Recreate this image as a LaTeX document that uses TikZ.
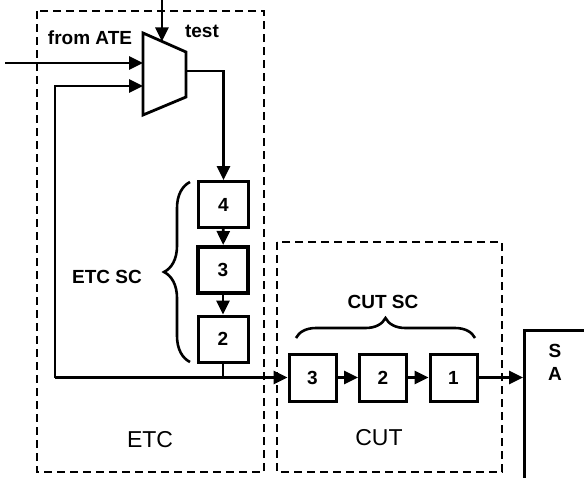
\documentclass[tikz,border=0pt]{standalone}
\usepackage{fontspec}
\setmainfont{Liberation Sans}
\usetikzlibrary{arrows.meta,decorations.pathreplacing,calc}
\begin{document}
\begin{tikzpicture}[x=1pt,y=-1pt,
  wire/.style={line width=2.8pt},
  arr/.style={wire,-{Triangle[length=14pt,width=13pt]}},
  cell/.style={draw,line width=3pt,minimum width=50pt,minimum height=46pt,inner sep=0pt,font=\fontsize{19}{21}\selectfont\bfseries},
  region/.style={draw,line width=2.8pt,dash pattern=on 8pt off 5pt},
  lbl/.style={inner sep=0pt,font=\fontsize{19}{21}\selectfont\bfseries},
  big/.style={inner sep=0pt,font=\fontsize{23}{25}\selectfont},
  brc/.style={line width=2.6pt,decorate,decoration={brace,amplitude=#1}}
]
\useasboundingbox (0,0) rectangle (584,477);
\clip (0,0) rectangle (584,477);
% regions
\draw[region] (37,11) rectangle (264,472);
\draw[region] (277,242) rectangle (502,472);
% SA box
\node[draw,line width=3pt,minimum width=90pt,minimum height=160pt,anchor=north west,inner sep=0pt] (sa) at (523,329) {};
\node[lbl] (s) at (555,351) {S};
\node[lbl] (a) at (555,374) {A};
% mux
\coordinate (m1) at (143,33);
\coordinate (m2) at (186,52);
\coordinate (m3) at (186,97);
\coordinate (m4) at (143,115);
\draw[wire,line join=miter] (m1) -- (m2) -- (m3) -- (m4) -- cycle;
\coordinate (muxtop) at ($(m1)!0.44!(m2)$);
\coordinate (testsrc) at (muxtop |- 0,-2);
\coordinate (ain) at (143,63);
\coordinate (fbin) at (143,86);
\coordinate (atesrc) at (5,63);
\coordinate (mout) at (186,71);
% ETC scan cells
\node[cell] (e4) at (223.5,204.5) {4};
\node[cell,line width=4pt] (e3) at (223,270) {3};
\node[cell] (e2) at (223,339) {2};
% CUT scan cells
\node[cell,minimum width=47pt,minimum height=47pt] (c3) at (312.5,377.5) {3};
\node[cell,minimum width=47pt,minimum height=47pt] (c2) at (383,377.5) {2};
\node[cell,minimum width=47pt,minimum height=47pt] (c1) at (453.5,377.5) {1};
% connections
\draw[arr] (testsrc) -- (muxtop);
\draw[arr] (atesrc) -- (ain);
\draw[arr] (mout) -| (e4.north);
\draw[arr] (e4) -- (e3);
\draw[arr] (e3) -- (e2);
\coordinate (fb) at (55,377.5);
\draw[arr] (fb) -- (c3.west);
\draw[arr,line join=miter] (fb) |- (fbin);
\draw[wire] (e2.south) -- (e2.south |- fb);
\draw[arr] (c3) -- (c2);
\draw[arr] (c2) -- (c1);
\draw[arr] (c1) -- (c1 -| sa.west);
% braces
\draw[brc=26pt] (190,362) -- (190,182);
\draw[brc=20pt] (296,338) -- (475,338);
% labels
\node[lbl] (fromate) at (90,38) {from ATE};
\node[lbl] (test) at (202,31) {test};
\node[lbl] (etcsc) at (107,277) {ETC SC};
\node[lbl] (cutsc) at (383,302) {CUT SC};
\node[big] (etc) at (150,440) {ETC};
\node[big] (cut) at (379,438) {CUT};
\end{tikzpicture}
\end{document}
